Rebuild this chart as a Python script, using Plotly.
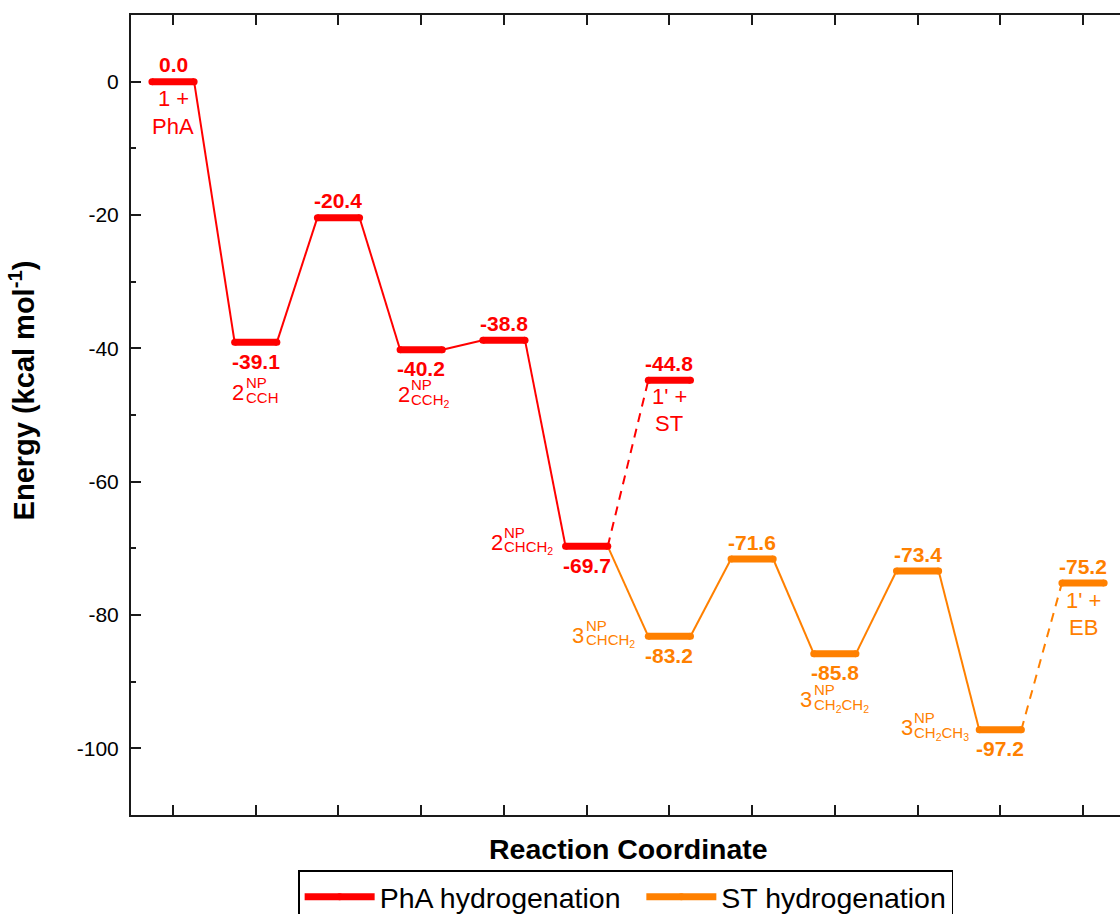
import plotly.graph_objects as go

# ---------------- data ----------------
pha_x = [1, 2, 3, 4, 5, 6]
pha_e = [0.0, -39.1, -20.4, -40.2, -38.8, -69.7]
pha_branch_x = [7]
pha_branch_e = [-44.8]

st_x = [7, 8, 9, 10, 11]
st_e = [-83.2, -71.6, -85.8, -73.4, -97.2]
st_branch_x = [12]
st_branch_e = [-75.2]

x_ticks = list(range(1, 13))
y_ticks = [0, -20, -40, -60, -80, -100]
series_names = ["PhA hydrogenation", "ST hydrogenation"]

# species labels: list of text lines, or (number, superscript, subscript)
pha_species = [["1 +", "PhA"], ("2", "NP", "CCH"), None, ("2", "NP", "CCH<sub>2</sub>"), None,
               ("2", "NP", "CHCH<sub>2</sub>")]
pha_branch_species = [["1' +", "ST"]]
st_species = [("3", "NP", "CHCH<sub>2</sub>"), None, ("3", "NP", "CH<sub>2</sub>CH<sub>2</sub>"), None,
              ("3", "NP", "CH<sub>2</sub>CH<sub>3</sub>")]
st_branch_species = [["1' +", "EB"]]

# ---------------- style ----------------
RED = "#FF0000"
ORANGE = "#FF8000"
FONT = "Liberation Sans, Arial, sans-serif"
HW = 0.255          # half width of an energy level (x units)
LEVEL_W = 7
CONN_W = 2
AX_COL = "#1a1a1a"

# value label placement: +1 above, -1 below
pha_val_pos = [1, -1, 1, -1, 1, -1]
pha_branch_val_pos = [1]
st_val_pos = [-1, 1, -1, 1, -1]
st_branch_val_pos = [1]

# species label offsets (px) of the main glyph centre relative to level centre
pha_sp_off = [(0, 17), (-17.5, 50), None, (-17.5, 45), None, (-90, -4)]
pha_branch_sp_off = [(0, 16)]
st_sp_off = [(-91, -1), None, (-28.5, 46), None, (-93.5, -2)]
st_branch_sp_off = [(0, 17)]
LINE_GAP = 27.5

fig = go.Figure()


def level_xy(xs, es):
    X, Y = [], []
    for x, e in zip(xs, es):
        X += [x - HW, x + HW, None]
        Y += [e, e, None]
    return X, Y


def conn_xy(pairs):
    X, Y = [], []
    for (xa, ya), (xb, yb) in pairs:
        X += [xa + HW, xb - HW, None]
        Y += [ya, yb, None]
    return X, Y


# connectors
red_solid = conn_xy([((pha_x[i], pha_e[i]), (pha_x[i + 1], pha_e[i + 1])) for i in range(len(pha_x) - 1)])
red_dash = conn_xy([((pha_x[-1], pha_e[-1]), (pha_branch_x[0], pha_branch_e[0]))])
or_solid = conn_xy([((pha_x[-1], pha_e[-1]), (st_x[0], st_e[0]))] +
                   [((st_x[i], st_e[i]), (st_x[i + 1], st_e[i + 1])) for i in range(len(st_x) - 1)])
or_dash = conn_xy([((st_x[-1], st_e[-1]), (st_branch_x[0], st_branch_e[0]))])

for (X, Y), col, dash in [(red_solid, RED, "solid"), (red_dash, RED, "9px,7px"),
                          (or_solid, ORANGE, "solid"), (or_dash, ORANGE, "9px,7px")]:
    fig.add_trace(go.Scatter(x=X, y=Y, mode="lines", line=dict(color=col, width=CONN_W, dash=dash),
                             showlegend=False, hoverinfo="skip"))

# levels (first legend name padded with no-break spaces to widen its entry)
legend_labels = [series_names[0] + "\u00a0\u00a0", series_names[1]]
for xs, es, col, name in [(pha_x + pha_branch_x, pha_e + pha_branch_e, RED, legend_labels[0]),
                          (st_x + st_branch_x, st_e + st_branch_e, ORANGE, legend_labels[1])]:
    X, Y = level_xy(xs, es)
    fig.add_trace(go.Scatter(x=X, y=Y, mode="lines+markers", name=name, showlegend=True,
                             line=dict(color=col, width=LEVEL_W),
                             marker=dict(color=col, size=LEVEL_W, line=dict(width=0)),
                             hoverinfo="skip"))


def ann(x, y, text, size, color, dx=0, dy=0, xanchor="center"):
    fig.add_annotation(x=x, y=y, xref="x", yref="y", text=text, showarrow=False,
                       font=dict(family=FONT, size=size, color=color), borderpad=0,
                       xshift=dx, yshift=-dy, xanchor=xanchor, yanchor="middle")


def labels(xs, es, vpos, species, sp_off, color):
    for x, e, vp, sp, off in zip(xs, es, vpos, species, sp_off):
        ann(x, e, "<b>%.1f</b>" % e, 21, color, 0, -17 if vp > 0 else 19)
        if sp is None:
            continue
        if isinstance(sp, list):
            for k, line in enumerate(sp):
                ann(x, e, line, 22, color, off[0], off[1] + k * LINE_GAP)
        else:
            num, sup, sub = sp
            ann(x, e, num, 22, color, off[0], off[1])
            ann(x, e, sup, 15, color, off[0] + 6.5, off[1] - 10, xanchor="left")
            ann(x, e, sub, 15, color, off[0] + 6.5, off[1] + 5.5, xanchor="left")


labels(pha_x, pha_e, pha_val_pos, pha_species, pha_sp_off, RED)
labels(pha_branch_x, pha_branch_e, pha_branch_val_pos, pha_branch_species, pha_branch_sp_off, RED)
labels(st_x, st_e, st_val_pos, st_species, st_sp_off, ORANGE)
labels(st_branch_x, st_branch_e, st_branch_val_pos, st_branch_species, st_branch_sp_off, ORANGE)

# axis titles
fig.add_annotation(x=-0.110, y=0.531, xref="paper", yref="paper", text="<b>Energy (kcal mol<sup>-1</sup>)</b>",
                   textangle=-90, showarrow=False, font=dict(family=FONT, size=29, color="black"),
                   xanchor="center", yanchor="middle")
fig.add_annotation(x=0.5035, y=-0.042, xref="paper", yref="paper", text="<b>Reaction Coordinate</b>",
                   showarrow=False, font=dict(family=FONT, size=28.5, color="black"),
                   xanchor="center", yanchor="middle")

fig.update_xaxes(range=[0.492, 12.447], tickmode="array", tickvals=x_ticks, showticklabels=False,
                 showline=True, linewidth=2, linecolor=AX_COL, mirror="ticks", ticks="inside",
                 tickwidth=1.6, tickcolor=AX_COL, ticklen=10, showgrid=False, zeroline=False)
fig.update_yaxes(range=[-110, 10], tickmode="array", tickvals=y_ticks,
                 ticktext=[str(v) for v in y_ticks],
                 tickfont=dict(family=FONT, size=21, color="black"), ticklabelstandoff=6,
                 minor=dict(ticks="inside", ticklen=5, tickwidth=1.6, tickcolor=AX_COL, dtick=10, tick0=0),
                 showline=True, linewidth=2, linecolor=AX_COL, mirror=False, ticks="inside",
                 tickwidth=1.6, tickcolor=AX_COL, ticklen=10, showgrid=False, zeroline=False)

fig.update_layout(
    width=1120, height=914,
    margin=dict(l=131, r=0, t=15, b=99, autoexpand=False),
    plot_bgcolor="white", paper_bgcolor="white",
    hovermode=False,
    # right-hand ticks of the (cropped) opposite axis
    yaxis2=dict(overlaying="y", side="right", anchor="x", range=[-110, 10], tickmode="array",
                tickvals=y_ticks, showticklabels=False, ticks="inside", ticklen=6, tickwidth=1.6,
                tickcolor=AX_COL, showline=False, showgrid=False, zeroline=False,
                minor=dict(ticks="inside", ticklen=2, tickwidth=1.6, tickcolor=AX_COL, dtick=10, tick0=0)),
    legend=dict(orientation="h", x=0.169, y=-0.069, xanchor="left", yanchor="top",
                bordercolor="black", borderwidth=1.5, font=dict(family=FONT, size=28.5, color="black"),
                itemwidth=70, bgcolor="white"),
)

fig.write_html("out.html", config={"displayModeBar": False},
               post_script="document.body.style.margin='0px';document.body.style.overflow='hidden';")
